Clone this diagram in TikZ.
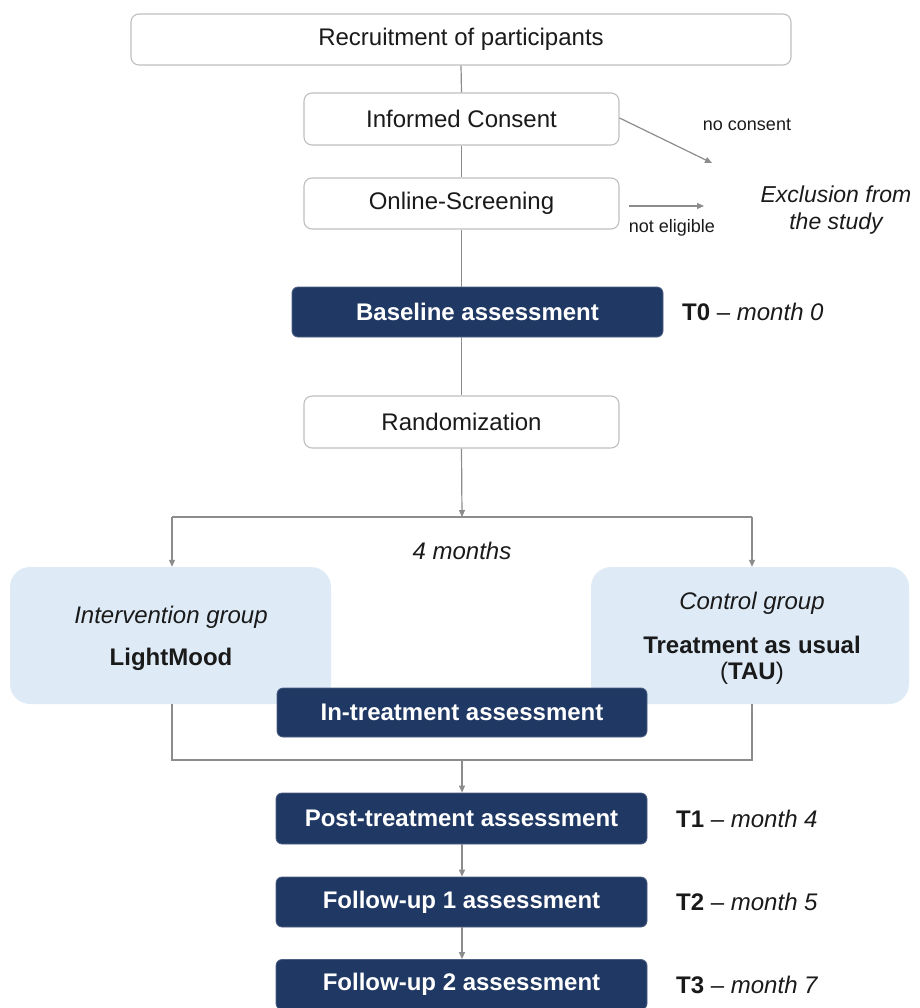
\documentclass[tikz,border=0pt]{standalone}
\usepackage{fontspec}
\setmainfont{Liberation Sans}
\usetikzlibrary{arrows.meta}
\definecolor{navy}{HTML}{203864}
\definecolor{lblue}{HTML}{DEEBF7}
\definecolor{bordergray}{HTML}{BFBFBF}
\definecolor{linegray}{HTML}{8C8C8C}
\definecolor{txt}{HTML}{1A1A1A}
\tikzset{
  whitebox/.style={draw=bordergray, line width=1.1pt, fill=white, rounded corners=8pt, inner sep=0pt, text=txt, font=\fontsize{24}{28}\selectfont},
  navybox/.style={draw=navy!80!white, line width=0.8pt, fill=navy, rounded corners=6pt, inner sep=0pt, text=white, font=\fontsize{24}{28}\selectfont\bfseries},
  bluebox/.style={fill=lblue, rounded corners=20pt, inner sep=0pt},
  lbl/.style={inner sep=0pt, text=txt, font=\fontsize{24}{28}\selectfont},
  small/.style={inner sep=0pt, text=txt, font=\fontsize{18}{22}\selectfont},
  conn/.style={draw=linegray, line width=1.2pt},
  arr/.style={conn, -{Triangle[length=7pt,width=6pt]}}
}
\begin{document}
\begin{tikzpicture}[x=1pt,y=-1pt]
\useasboundingbox (0,0) rectangle (919,1008);
% white boxes
\node[whitebox, minimum width=660pt, minimum height=51pt] (recruit) at (461,39.5) {Recruitment of participants};
\node[whitebox, minimum width=315pt, minimum height=52pt] (consent) at (461.5,119) {Informed Consent};
\node[whitebox, minimum width=315pt, minimum height=51pt] (screen) at (461.5,203.5) {Online-Screening};
\node[navybox, minimum width=371pt, minimum height=50pt] (base) at (477.5,312) {Baseline assessment};
\node[whitebox, minimum width=315pt, minimum height=52pt] (random) at (461.5,422) {Randomization};
% connectors top
\draw[conn] (recruit.south) -- (consent.north);
\draw[conn] (consent.south) -- (screen.north);
\draw[conn] (screen.south) -- (screen.south |- base.north);
\draw[conn] (random.north |- base.south) -- (random.north);
% exclusion
\node[lbl, font=\fontsize{23}{27}\selectfont\itshape, align=center] (excl) at (836,210) {Exclusion from\\[0pt]the study};
\coordinate (ncend) at (712,163);
\coordinate (nestart) at (629,206);
\coordinate (neend) at (704,206);
\draw[arr] (consent.east) ++(0,-1) -- (ncend);
\draw[arr] (nestart) -- (neend);
\node[small] (nocons) at (747,124.5) {no consent};
\node[small] (noelig) at (672,228) {not eligible};
% T labels
\node[lbl, anchor=west] (t0) at (682,312) {\textbf{T0} -- \textit{month 0}};
% randomization split
\coordinate (split) at (462,517);
\coordinate (splitL) at (172,517);
\coordinate (splitR) at (752,517);
\draw[arr] (random.south) -- (split);
\draw[conn] (splitL) -- (splitR);
% group boxes
\node[bluebox, minimum width=321pt, minimum height=137pt] (interv) at (170.5,635.5) {};
\node[bluebox, minimum width=318pt, minimum height=137pt] (control) at (750,635.5) {};
\draw[arr] (splitL) -- (splitL |- interv.north);
\draw[arr] (splitR) -- (splitR |- control.north);
\node[lbl, font=\fontsize{24}{28}\selectfont\itshape] (months) at (462,551) {4 months};
\node[lbl, font=\fontsize{24}{28}\selectfont\itshape] (intervT) at (171,617) {Intervention group};
\node[lbl, font=\fontsize{24}{28}\selectfont\bfseries] (intervN) at (171,659) {LightMood};
\node[lbl, font=\fontsize{24}{28}\selectfont\itshape] (controlT) at (752,603) {Control group};
\node[lbl, font=\fontsize{24}{28}\selectfont\bfseries] (controlN) at (752,645) {Treatment as usual};
\node[lbl] (controlN2) at (752,673) {(\textbf{TAU})};
% merge
\coordinate (mergeL) at (172,760);
\coordinate (mergeR) at (752,760);
\coordinate (merge) at (462,760);
\draw[conn] (interv.south -| mergeL) -- (mergeL) -- (mergeR) -- (control.south -| mergeR);
\node[navybox, minimum width=370pt, minimum height=49pt] (intreat) at (462,712.5) {In-treatment assessment};
% bottom
\node[navybox, minimum width=371pt, minimum height=51pt] (post) at (461.5,818.5) {Post-treatment assessment};
\node[navybox, minimum width=371pt, minimum height=50pt] (fu1) at (461.5,902) {Follow-up 1 assessment};
\node[navybox, minimum width=371pt, minimum height=50pt] (fu2) at (461.5,984.5) {Follow-up 2 assessment};
\draw[arr] (merge) -- (merge |- post.north);
\draw[arr] (post.south -| merge) -- (fu1.north -| merge);
\draw[arr] (fu1.south -| merge) -- (fu2.north -| merge);
\node[lbl, anchor=west] (t1) at (676,818.5) {\textbf{T1} -- \textit{month 4}};
\node[lbl, anchor=west] (t2) at (676,902) {\textbf{T2} -- \textit{month 5}};
\node[lbl, anchor=west] (t3) at (676,984.5) {\textbf{T3} -- \textit{month 7}};
\end{tikzpicture}
\end{document}
